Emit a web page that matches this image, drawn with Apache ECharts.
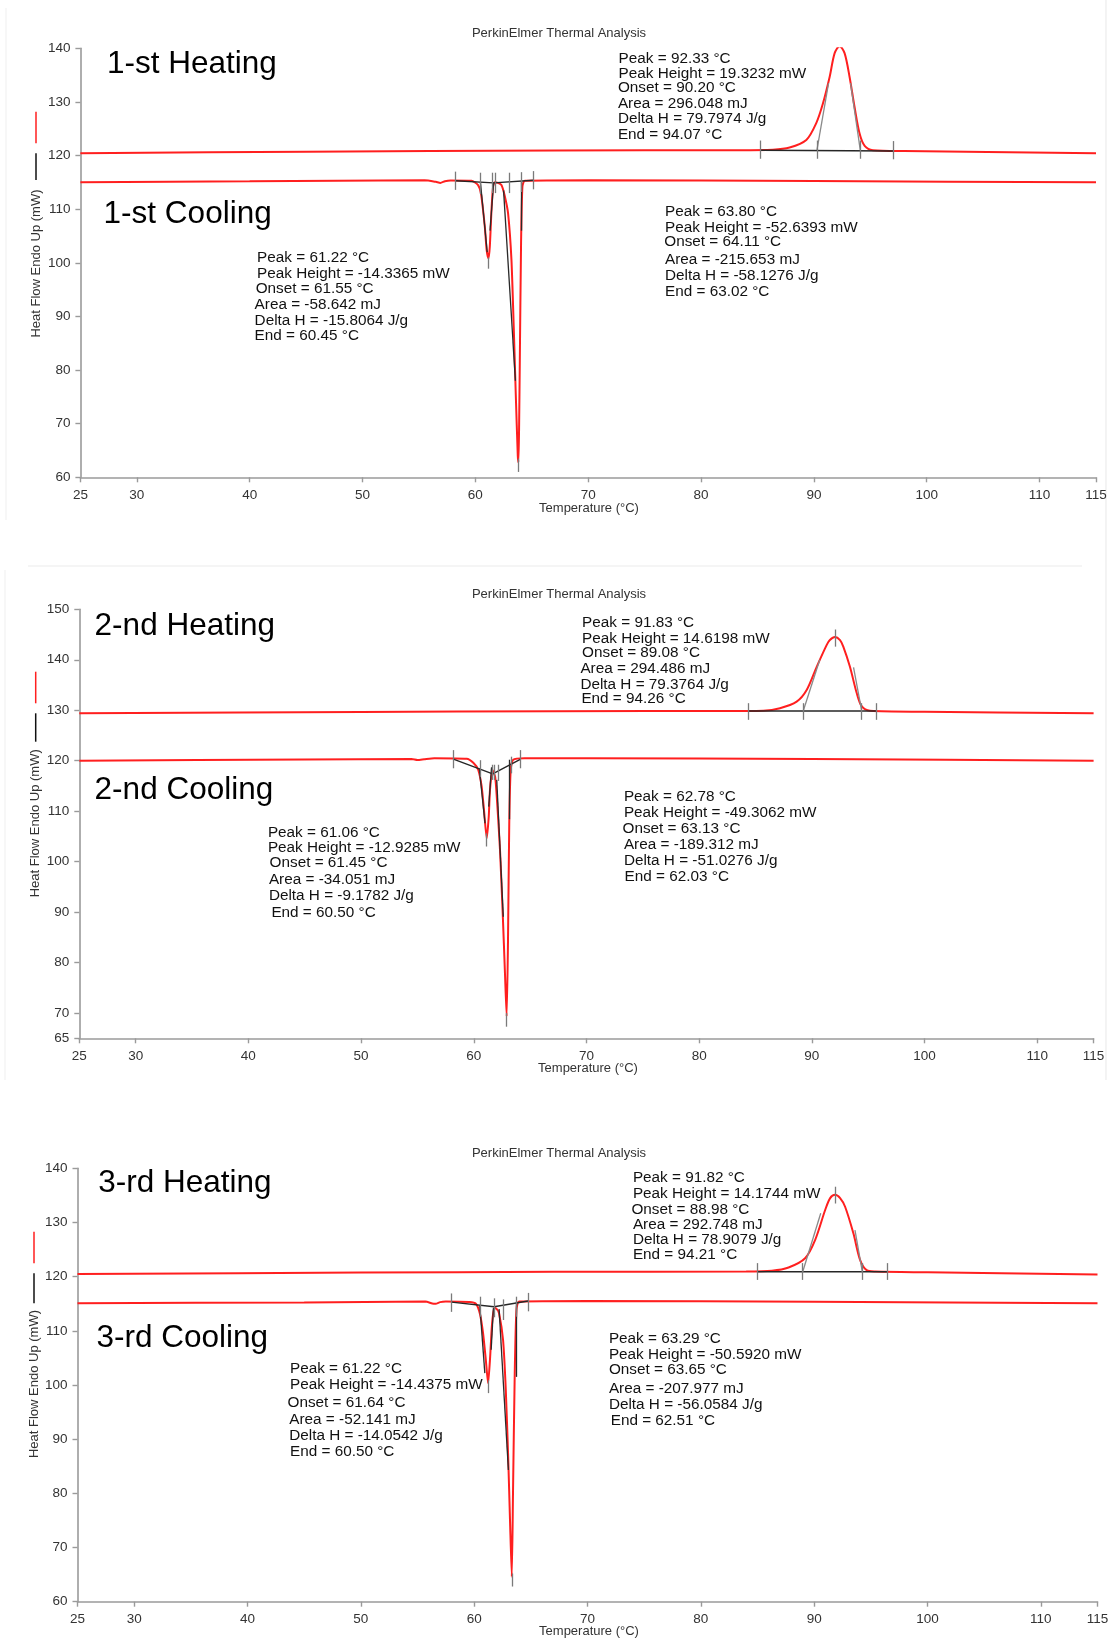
<!DOCTYPE html>
<html>
<head>
<meta charset="utf-8">
<script src="https://cdn.jsdelivr.net/npm/echarts@6/dist/echarts.min.js"></script>
<style>
html,body{margin:0;padding:0;background:#fff;}
#chart{width:1112px;height:1640px;}
</style>
</head>
<body>
<div id="chart"></div>
<script>
// ---------------- DATA ----------------
const xTicks = [25, 30, 40, 50, 60, 70, 80, 90, 100, 110, 115];
const yTicks1 = [60, 70, 80, 90, 100, 110, 120, 130, 140];
const yTicks2 = [65, 70, 80, 90, 100, 110, 120, 130, 140, 150];
const yTicks3 = [60, 70, 80, 90, 100, 110, 120, 130, 140];

const titleText = 'PerkinElmer Thermal Analysis';
const xName = 'Temperature (°C)';
const yName = 'Heat Flow Endo Up (mW)';
const runLabels = [['1-st Heating', '1-st Cooling'], ['2-nd Heating', '2-nd Cooling'], ['3-rd Heating', '3-rd Cooling']];

// Panel 1
const heat1 = [[25,120.45],[45,120.7],[67,120.95],[83,121.0],[86.37,121.1],[87.85,121.5],[89.33,122.9],[90.2,126.0],[90.8,129.7],[91.4,134.7],[91.84,139.1],[92.28,140.4],[92.72,139.1],[93.16,134.7],[93.6,129.1],[94.05,124.1],[94.5,121.8],[95.23,121.0],[98,120.85],[115,120.45]];
const cool1 = [[25,115.0],[40,115.2],[55.5,115.4],[56.5,115.1],[56.9,114.9],[57.3,115.2],[57.8,115.35],[59.66,115.3],[60.24,114.5],[60.5,112.9],[60.84,106.7],[61.0,102.4],[61.16,100.8],[61.28,103.0],[61.43,109.8],[61.57,114.2],[61.72,115.0],[62.0,114.9],[62.31,114.5],[62.6,112.5],[62.9,109.2],[63.2,100.5],[63.4,88.1],[63.58,75.6],[63.76,64.0],[63.82,62.8],[63.88,70.0],[63.94,81.8],[64.05,103.6],[64.17,114.2],[64.38,115.3],[70,115.4],[90,115.25],[115,115.0]];
const baseH1 = [[85.28,121.0],[97.06,120.85]];
const baseC1 = [[58.24,115.3],[61.6,114.9],[65.15,115.4]];
const ticksH1 = [[85.28,122.8,119.4],[90.27,122.8,119.4],[94.11,122.8,119.4],[97.06,122.7,119.3],[92.28,140.4,138.3]];
const ticksC1 = [[58.24,117.0,113.6],[60.46,116.8,112.8],[61.49,116.8,113.0],[61.78,116.8,113.0],[63.0,116.8,113.0],[64.11,116.9,113.2],[65.15,117.1,113.7],[61.16,101.0,98.9],[63.82,63.5,61.0]];
const tanH1 = [[[90.27,121.0],[91.3,133.5]],[[94.11,121.0],[93.25,133.5]]];
const tanC1 = [[[60.45,115.0],[61.05,102.0]],[[61.62,115.0],[61.3,106.0]],[[62.5,113.5],[63.55,78.0]],[[64.1,115.3],[64.1,106.0]]];
const ann1A = ['Peak = 61.22 °C','Peak Height = -14.3365 mW','Onset = 61.55 °C','Area = -58.642 mJ','Delta H = -15.8064 J/g','End = 60.45 °C'];
const ann1B = ['Peak = 92.33 °C','Peak Height = 19.3232 mW','Onset = 90.20 °C','Area = 296.048 mJ','Delta H = 79.7974 J/g','End = 94.07 °C'];
const ann1C = ['Peak = 63.80 °C','Peak Height = -52.6393 mW','Onset = 64.11 °C','Area = -215.653 mJ','Delta H = -58.1276 J/g','End = 63.02 °C'];

// Panel 2
const heat2 = [[25,129.4],[50,129.65],[67,129.8],[84,129.85],[85.69,129.9],[87.17,130.4],[88.65,131.7],[89.54,134.0],[90.43,138.6],[91.31,142.9],[91.6,143.9],[92.05,144.5],[92.5,143.9],[92.79,142.6],[93.38,138.6],[93.98,133.4],[94.42,130.8],[95.16,129.9],[100,129.7],[115,129.4]];
const cool2 = [[25,120.0],[45,120.25],[54.5,120.35],[55.0,120.15],[55.6,120.3],[56.5,120.5],[59.37,120.4],[59.96,119.6],[60.4,118.2],[60.7,114.9],[60.91,110.2],[61.15,104.6],[61.33,108.9],[61.44,114.2],[61.65,118.2],[61.9,116.8],[62.1,110.9],[62.33,102.3],[62.57,89.8],[62.77,77.9],[62.92,69.3],[63.04,84.5],[63.15,107.6],[63.28,118.2],[63.5,120.2],[64.5,120.5],[70,120.5],[90,120.35],[115,120.0]];
const baseH2 = [[84.36,129.85],[95.69,129.85]];
const baseC2 = [[58.19,120.3],[61.68,117.4],[64.17,120.3]];
const ticksH2 = [[84.36,131.4,128.1],[89.24,131.4,128.1],[94.42,131.4,128.1],[95.69,131.4,128.1],[92.05,146.0,142.6]];
const ticksC2 = [[58.19,122.1,118.5],[60.62,120.1,116.8],[61.63,119.2,116.2],[61.78,119.2,116.2],[62.18,119.2,116.0],[63.3,120.8,117.5],[64.17,122.1,118.5],[61.15,105.6,103.0],[62.92,70.0,67.3]];
const tanH2 = [[[89.24,129.9],[90.7,140.0]],[[94.42,129.9],[93.7,138.5]]];
const tanC2 = [[[60.49,118.5],[61.0,107.6]],[[61.58,118.7],[61.33,110.9]],[[62.04,116.2],[62.62,89.1]],[[63.15,120.2],[63.15,108.4]]];
const ann2A = ['Peak = 61.06 °C','Peak Height = -12.9285 mW','Onset = 61.45 °C','Area = -34.051 mJ','Delta H = -9.1782 J/g','End = 60.50 °C'];
const ann2B = ['Peak = 91.83 °C','Peak Height = 14.6198 mW','Onset = 89.08 °C','Area = 294.486 mJ','Delta H = 79.3764 J/g','End = 94.26 °C'];
const ann2C = ['Peak = 62.78 °C','Peak Height = -49.3062 mW','Onset = 63.13 °C','Area = -189.312 mJ','Delta H = -51.0276 J/g','End = 62.03 °C'];

// Panel 3
const heat3 = [[25,120.5],[50,120.75],[67,120.9],[84,120.95],[86.27,121.1],[87.74,121.7],[89.2,123.4],[90.09,126.8],[90.97,132.3],[91.41,134.5],[91.85,135.1],[92.29,134.5],[92.73,132.9],[93.46,128.0],[94.05,123.1],[94.63,121.2],[95.4,120.95],[100,120.8],[115,120.4]];
const cool3 = [[25,115.1],[45,115.25],[55.7,115.4],[56.3,115.05],[56.6,115.0],[57.0,115.3],[57.5,115.4],[59.56,115.3],[60.15,115.0],[60.5,113.2],[60.79,109.5],[61.03,104.6],[61.23,100.3],[61.41,105.2],[61.56,110.8],[61.76,114.2],[62.0,114.0],[62.2,113.2],[62.55,108.3],[62.79,99.1],[63.0,86.8],[63.17,74.5],[63.32,64.6],[63.43,80.6],[63.58,102.2],[63.73,113.8],[63.96,115.4],[70,115.5],[90,115.35],[115,115.1]];
const baseH3 = [[84.95,120.9],[96.48,120.9]];
const baseC3 = [[58.0,115.3],[61.76,114.45],[64.76,115.5]];
const ticksH3 = [[84.95,122.5,119.4],[88.99,122.5,119.4],[94.25,122.5,119.4],[96.48,122.5,119.4],[91.85,136.6,133.5]];
const ticksC3 = [[58.0,116.9,113.5],[60.5,116.3,112.6],[61.76,116.0,112.5],[62.55,115.8,112.0],[63.67,116.3,112.6],[64.76,117.0,113.6],[61.23,100.9,98.5],[63.32,65.2,62.8]];
const tanH3 = [[[88.99,120.9],[90.58,131.7]],[[94.25,120.9],[93.6,128.6]]];
const tanC3 = [[[60.5,114.6],[60.94,102.2]],[[61.7,114.2],[61.5,106.5]],[[62.2,114.0],[63.02,84.3]],[[63.67,115.4],[63.67,101.5]]];
const ann3A = ['Peak = 61.22 °C','Peak Height = -14.4375 mW','Onset = 61.64 °C','Area = -52.141 mJ','Delta H = -14.0542 J/g','End = 60.50 °C'];
const ann3B = ['Peak = 91.82 °C','Peak Height = 14.1744 mW','Onset = 88.98 °C','Area = 292.748 mJ','Delta H = 78.9079 J/g','End = 94.21 °C'];
const ann3C = ['Peak = 63.29 °C','Peak Height = -50.5920 mW','Onset = 63.65 °C','Area = -207.977 mJ','Delta H = -56.0584 J/g','End = 62.51 °C'];

// ---------------- LAYOUT ----------------
const FONT = '"Liberation Sans", Arial, Helvetica, sans-serif';
const RED = '#ff1f1f';
const grids = [
  {left: 80.4, top: 48.3, width: 1015.6, height: 429},
  {left: 79.3, top: 609.3, width: 1014.3, height: 429},
  {left: 77.5, top: 1168.3, width: 1020, height: 433.4}
];
const yRanges = [[60, 140, yTicks1], [65, 150, yTicks2], [60, 140, yTicks3]];

const panels = [
  {heat: heat1, cool: cool1, baseH: baseH1, baseC: baseC1, ticksH: ticksH1, ticksC: ticksC1, tanH: tanH1, tanC: tanC1,
   ann: [ann1A, ann1B, ann1C]},
  {heat: heat2, cool: cool2, baseH: baseH2, baseC: baseC2, ticksH: ticksH2, ticksC: ticksC2, tanH: tanH2, tanC: tanC2,
   ann: [ann2A, ann2B, ann2C]},
  {heat: heat3, cool: cool3, baseH: baseH3, baseC: baseC3, ticksH: ticksH3, ticksC: ticksC3, tanH: tanH3, tanC: tanC3,
   ann: [ann3A, ann3B, ann3C]}
];

// text positions (pixels) for annotation blocks: [xs], [ys]
const annPos = [
  [
    [[257.1,257.1,255.7,254.6,254.6,254.6],[257.3,273.3,288.3,305,321,336]],
    [[618.6,618.6,617.9,617.9,617.9,617.9],[59,74,87.3,103.3,119,135]],
    [[665,665,664.3,665,665,665],[212,227.7,242,259.3,275.3,291.3]]
  ],
  [
    [[267.9,267.9,269.6,268.9,268.9,271.4],[832.7,847.3,862.7,880,896,912.7]],
    [[582.1,582.1,582.1,580.4,580.4,581.4],[622.3,638.3,652.7,669,685,698.3]],
    [[623.9,623.9,622.5,623.9,623.9,624.6],[796.7,812.3,828.3,845,861,876.7]]
  ],
  [
    [[290,290,287.5,289.3,289.3,290],[1368.7,1385,1402.7,1420,1435.3,1451.7]],
    [[632.9,632.9,631.4,632.9,632.9,632.9],[1177.7,1193.3,1210,1225,1240,1254.3]],
    [[608.9,608.9,608.9,608.9,608.9,610.7],[1339,1355,1370,1388.7,1405,1421]]
  ]
];
const bigLabelPos = [[[107,64],[103.6,214]], [[94.6,626],[94.6,790]], [[98.2,1183.5],[96.4,1338.7]]];
const titlePos = [[559,33],[559,594],[559,1153]];
const xNamePos = [[589,508],[588,1068.3],[589,1631.7]];
const yNamePos = [[36,263.5],[35.7,823.3],[34,1384]];
const blackDash = [[153.3,180],[713.3,741.7],[1273.3,1303.3]];
const redDash = [[111.7,143.3],[671.7,703.3],[1231.7,1263.3]];

// ---------------- BUILD ----------------
const xAxes = [], yAxes = [], series = [], graphic = [];

grids.forEach((g, i) => {
  xAxes.push({
    type: 'value', gridIndex: i, min: 25, max: 115,
    axisLine: {show: true, lineStyle: {color: '#9a9a9a', width: 1.6}},
    axisTick: {show: true, length: 5, lineStyle: {color: '#9a9a9a', width: 1.4}, customValues: xTicks},
    axisLabel: {color: '#333', fontSize: 13.5, fontFamily: FONT, margin: 11, customValues: xTicks},
    splitLine: {show: false}
  });
  const yr = yRanges[i];
  yAxes.push({
    type: 'value', gridIndex: i, min: yr[0], max: yr[1],
    axisLine: {show: true, lineStyle: {color: '#9a9a9a', width: 1.6}},
    axisTick: {show: true, length: 5, lineStyle: {color: '#9a9a9a', width: 1.4}, customValues: yr[2]},
    axisLabel: {color: '#333', fontSize: 13.5, fontFamily: FONT, margin: 10, customValues: yr[2]},
    splitLine: {show: false}
  });

  const p = panels[i];
  const mlBase = {symbol: ['none', 'none'], silent: true, label: {show: false}, emphasis: {disabled: true}, animation: false};
  const tickLines = p.ticksH.concat(p.ticksC).map(t => [{coord: [t[0], t[1]]}, {coord: [t[0], t[2]]}]);

  series.push({
    type: 'line', xAxisIndex: i, yAxisIndex: i, data: p.heat, showSymbol: false, smooth: 0.3,
    lineStyle: {color: RED, width: 2}, z: 3, clip: true,
    markLine: Object.assign({}, mlBase, {lineStyle: {color: '#8a8a8a', width: 1.3, type: 'solid'},
      data: p.tanH.map(s => [{coord: s[0]}, {coord: s[1]}])})
  });
  series.push({
    type: 'line', xAxisIndex: i, yAxisIndex: i, data: p.cool, showSymbol: false, smooth: 0.2,
    lineStyle: {color: RED, width: 2}, z: 3, clip: true,
    markLine: Object.assign({}, mlBase, {lineStyle: {color: '#2a2a2a', width: 1.3, type: 'solid'},
      data: p.tanC.map(s => [{coord: s[0]}, {coord: s[1]}])})
  });
  series.push({
    type: 'line', xAxisIndex: i, yAxisIndex: i, data: p.baseH, showSymbol: false,
    lineStyle: {color: '#262626', width: 1.4}, z: 4
  });
  series.push({
    type: 'line', xAxisIndex: i, yAxisIndex: i, data: p.baseC, showSymbol: false,
    lineStyle: {color: '#262626', width: 1.4}, z: 4,
    markLine: Object.assign({}, mlBase, {lineStyle: {color: '#7a7a7a', width: 1.3, type: 'solid'}, data: tickLines})
  });

  // texts
  graphic.push({type: 'text', x: titlePos[i][0], y: titlePos[i][1],
    style: {text: titleText, fontSize: 13, fontFamily: FONT, fill: '#333', align: 'center', verticalAlign: 'middle'}});
  graphic.push({type: 'text', x: xNamePos[i][0], y: xNamePos[i][1],
    style: {text: xName, fontSize: 13, fontFamily: FONT, fill: '#333', align: 'center', verticalAlign: 'middle'}});
  graphic.push({type: 'text', x: yNamePos[i][0], y: yNamePos[i][1], rotation: Math.PI / 2,
    style: {text: yName, fontSize: 13, fontFamily: FONT, fill: '#333', align: 'center', verticalAlign: 'middle'}});
  graphic.push({type: 'line', shape: {x1: yNamePos[i][0], y1: blackDash[i][0], x2: yNamePos[i][0], y2: blackDash[i][1]},
    style: {stroke: '#111', lineWidth: 1.5}});
  graphic.push({type: 'line', shape: {x1: yNamePos[i][0], y1: redDash[i][0], x2: yNamePos[i][0], y2: redDash[i][1]},
    style: {stroke: RED, lineWidth: 1.5}});
  runLabels[i].forEach((lab, k) => {
    graphic.push({type: 'text', x: bigLabelPos[i][k][0], y: bigLabelPos[i][k][1],
      style: {text: lab, fontSize: 31.5, fontFamily: FONT, fill: '#000', align: 'left', verticalAlign: 'middle'}});
  });
  p.ann.forEach((block, b) => {
    const pos = annPos[i][b];
    block.forEach((line, k) => {
      graphic.push({type: 'text', x: pos[0][k], y: pos[1][k],
        style: {text: line, fontSize: 15.3, fontFamily: FONT, fill: '#111', align: 'left', verticalAlign: 'middle'}});
    });
  });
});

// faint frame lines of the original screenshots
const frameColor = '#ececec';
graphic.push({type: 'line', shape: {x1: 28, y1: 566, x2: 1082, y2: 566}, style: {stroke: frameColor, lineWidth: 1.2}});
graphic.push({type: 'line', shape: {x1: 1106, y1: 0, x2: 1106, y2: 1080}, style: {stroke: frameColor, lineWidth: 1.2}});
graphic.push({type: 'line', shape: {x1: 6, y1: 8, x2: 6, y2: 520}, style: {stroke: '#f2f2f2', lineWidth: 1.2}});
graphic.push({type: 'line', shape: {x1: 5, y1: 570, x2: 5, y2: 1080}, style: {stroke: '#f2f2f2', lineWidth: 1.2}});

const chart = echarts.init(document.getElementById('chart'), null, {renderer: 'canvas'});
chart.setOption({
  animation: false,
  backgroundColor: '#fff',
  grid: grids.map(g => Object.assign({containLabel: false}, g)),
  xAxis: xAxes,
  yAxis: yAxes,
  series: series,
  graphic: graphic
});
</script>
</body>
</html>
